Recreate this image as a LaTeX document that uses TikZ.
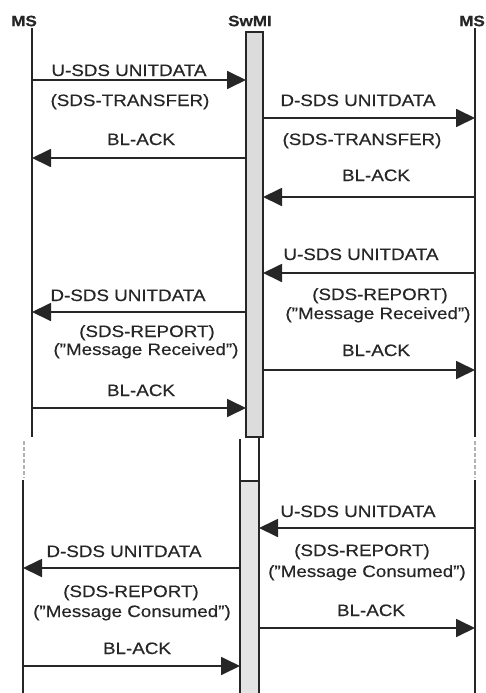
\documentclass[tikz,border=0pt]{standalone}
\usepackage{fontspec}
\setmainfont{Liberation Sans}[FakeStretch=1.14, FakeBold=0.4]
\usetikzlibrary{arrows.meta}
\definecolor{txt}{HTML}{262626}
\definecolor{barfill}{HTML}{DCDCDC}
\definecolor{barfilltwo}{HTML}{E4E4E4}
\begin{document}
\begin{tikzpicture}[x=1pt,y=-1pt,
  life/.style={line width=1.8pt, black!85},
  gap/.style={line width=1.5pt, black!30, dash pattern=on 4pt off 2pt},
  msg/.style={line width=1.8pt, black!85, -{Triangle[length=19pt,width=18pt]}},
  lbl/.style={anchor=base, inner sep=0pt, font=\fontsize{16.5}{20}\selectfont, text=txt},
  head/.style={anchor=center, inner sep=0pt, font=\fontsize{15}{18}\selectfont\bfseries, text=txt},
  bar/.style={line width=1.3pt, black!85}]
\useasboundingbox (0,0) rectangle (486,693);

% headers
\node[head] (msA) at (24,21) {MS};
\node[head] (swmi) at (250,21) {SwMI};
\node[head] (msB) at (472,21) {MS};

% lifelines, upper part
\coordinate (lA1) at (32,28);  \coordinate (lA2) at (32,437);
\coordinate (lB1) at (475,28); \coordinate (lB2) at (475,437);
\draw[life] (lA1) -- (lA2);
\draw[life] (lB1) -- (lB2);
% gaps
\coordinate (gA1) at (24,441); \coordinate (gA2) at (24,478);
\coordinate (gB1) at (475,441); \coordinate (gB2) at (475,478);
\draw[gap] (gA1) -- (gA2);
\draw[gap] (gB1) -- (gB2);
% lifelines, lower part
\coordinate (lA3) at (23,480);  \coordinate (lA4) at (23,693);
\coordinate (lB3) at (475,480); \coordinate (lB4) at (475,693);
\draw[life] (lA3) -- (lA4);
\draw[life] (lB3) -- (lB4);

% SwMI bars
\draw[bar, fill=barfill] (246,32) rectangle (263,437);
\draw[bar] (240,439) -- (240,693);
\draw[bar] (259,437) -- (259,693);
\draw[bar, fill=barfilltwo] (240,481) rectangle (259,694);

% messages, upper
\coordinate (m1a) at (32,80);   \coordinate (m1b) at (246,80);
\coordinate (m2a) at (263,118); \coordinate (m2b) at (475,118);
\coordinate (m3a) at (246,158); \coordinate (m3b) at (32,158);
\coordinate (m4a) at (475,197); \coordinate (m4b) at (263,197);
\coordinate (m5a) at (475,273); \coordinate (m5b) at (263,273);
\coordinate (m6a) at (246,312); \coordinate (m6b) at (32,312);
\coordinate (m7a) at (263,370); \coordinate (m7b) at (475,370);
\coordinate (m8a) at (32,408);  \coordinate (m8b) at (246,408);
% messages, lower
\coordinate (m9a) at (475,528);  \coordinate (m9b) at (259,528);
\coordinate (m10a) at (240,568); \coordinate (m10b) at (23,568);
\coordinate (m11a) at (259,628); \coordinate (m11b) at (475,628);
\coordinate (m12a) at (23,666);  \coordinate (m12b) at (240,666);

\foreach \i in {1,...,12} {\draw[msg] (m\i a) -- (m\i b);}

% labels
\node[lbl] (t1) at (129,76) {U-SDS UNITDATA};
\node[lbl] (t1b) at (130,106) {(SDS-TRANSFER)};
\node[lbl] (t2) at (358,106) {D-SDS UNITDATA};
\node[lbl] (t2b) at (362,145) {(SDS-TRANSFER)};
\node[lbl] (t3) at (141,145) {BL-ACK};
\node[lbl] (t4) at (376,181) {BL-ACK};
\node[lbl] (t5) at (361,260) {U-SDS UNITDATA};
\node[lbl] (t6) at (128,301) {D-SDS UNITDATA};
\node[lbl] (t5b) at (380,300) {(SDS-REPORT)};
\node[lbl] (t5c) at (378,319) {("Message Received")};
\node[lbl] (t6b) at (147,337) {(SDS-REPORT)};
\node[lbl] (t6c) at (146,355) {("Message Received")};
\node[lbl] (t7) at (376,356) {BL-ACK};
\node[lbl] (t8) at (141,396) {BL-ACK};

\node[lbl] (t9) at (358,517) {U-SDS UNITDATA};
\node[lbl] (t9b) at (362,556) {(SDS-REPORT)};
\node[lbl] (t9c) at (367,577) {("Message Consumed")};
\node[lbl] (t10) at (124,557) {D-SDS UNITDATA};
\node[lbl] (t10b) at (131,597) {(SDS-REPORT)};
\node[lbl] (t10c) at (132,617) {("Message Consumed")};
\node[lbl] (t11) at (371,616) {BL-ACK};
\node[lbl] (t12) at (137,654) {BL-ACK};
\end{tikzpicture}
\end{document}
